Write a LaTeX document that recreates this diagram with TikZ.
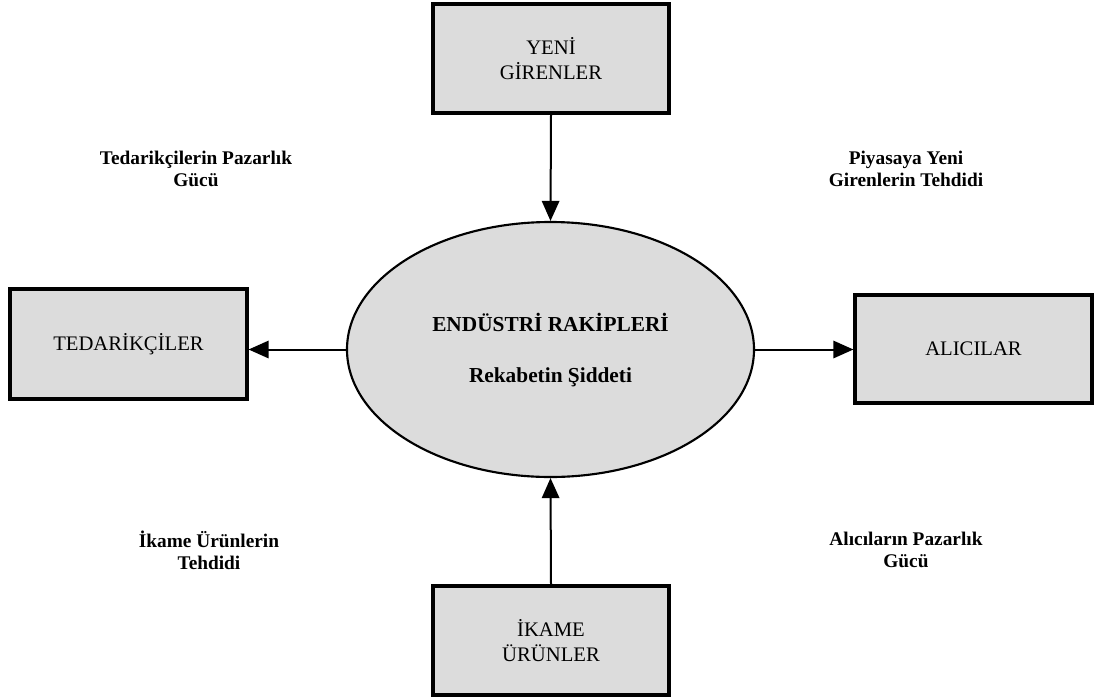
\documentclass[tikz,border=0pt]{standalone}
\usepackage{fontspec}
\setmainfont{Liberation Serif}
\usetikzlibrary{shapes.geometric,arrows.meta}

\definecolor{boxgray}{HTML}{DCDCDC}

\tikzset{
  force/.style={draw=black, line width=2.4pt, fill=boxgray, inner sep=0pt,
    align=center, font=\fontsize{15.5}{18.5}\selectfont},
  rivalry/.style={ellipse, draw=black, line width=1.6pt, fill=boxgray, inner sep=0pt,
    minimum width=407*0.75pt, minimum height=255*0.75pt},
  note/.style={align=center, font=\fontsize{14.5}{16.5}\selectfont\bfseries},
  link/.style={line width=1.5pt, -{Triangle[length=15pt,width=13pt]}}
}

\begin{document}
\begin{tikzpicture}[x=0.75pt, y=-0.75pt]
  \useasboundingbox (0,0) rectangle (1096,697);

  % five forces
  \node[force, minimum width=236*0.75pt, minimum height=109*0.75pt] (yeni) at (551,58.5) {YENİ\\GİRENLER};
  \node[force, minimum width=237*0.75pt, minimum height=110*0.75pt] (tedarik) at (128.5,344) {TEDARİKÇİLER};
  \node[force, minimum width=237*0.75pt, minimum height=108*0.75pt] (alici) at (973.5,349) {ALICILAR};
  \node[force, minimum width=236*0.75pt, minimum height=109*0.75pt] (ikame) at (551,640.5) {İKAME\\ÜRÜNLER};

  % central rivalry
  \node[rivalry] (rakip) at (550.5,349.5) {};
  \node[font=\fontsize{16}{19}\selectfont\bfseries] (rakipA) at (550.5,322) {ENDÜSTRİ RAKİPLERİ};
  \node[font=\fontsize{16}{19}\selectfont\bfseries] (rakipB) at (550.5,377) {Rekabetin Şiddeti};

  % connectors
  \draw[link] (yeni.south) -- (rakip.north);
  \draw[link] (ikame.north) -- (rakip.south);
  \draw[link] (rakip.west) -- (tedarik.east |- rakip.west);
  \draw[link] (rakip.east) -- (alici.west |- rakip.east);

  % corner labels
  \node[note] (n1) at (196,169) {Tedarikçilerin Pazarlık\\Gücü};
  \node[note] (n2) at (906,169) {Piyasaya Yeni\\Girenlerin Tehdidi};
  \node[note] (n3) at (209,550) {İkame Ürünlerin\\Tehdidi};
  \node[note] (n4) at (906,550) {Alıcıların Pazarlık\\Gücü};
\end{tikzpicture}
\end{document}
